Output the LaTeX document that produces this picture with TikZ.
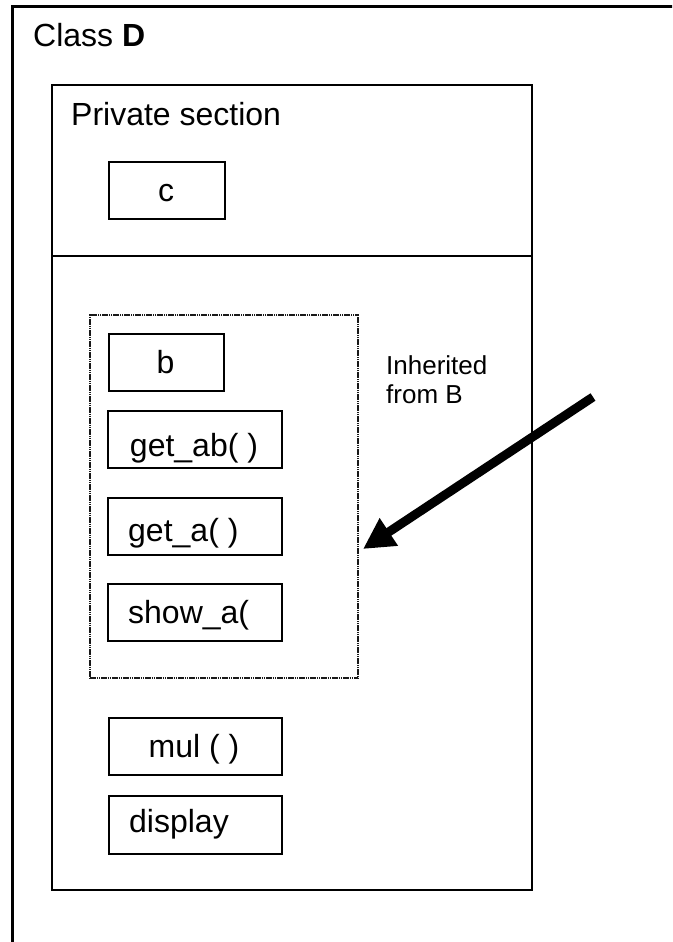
\documentclass[tikz,border=0pt]{standalone}
\usepackage{fontspec}
\setmainfont{Liberation Sans}
\usetikzlibrary{arrows.meta}
\begin{document}
\begin{tikzpicture}[x=1pt,y=-1pt,
  frame/.style={draw, line width=3pt},
  panel/.style={draw, line width=2pt, anchor=north west, inner sep=0pt},
  member/.style={draw, line width=2pt, anchor=north west, inner sep=0pt,
                 minimum width=174pt, minimum height=57pt},
  group/.style={draw=black!90, line width=2pt, dash pattern=on 1.6pt off 0.6pt,
                anchor=north west, inner sep=0pt},
  lbl/.style={font=\fontsize{32}{38}\selectfont, inner sep=0pt},
  note/.style={font=\fontsize{26}{30}\selectfont, inner sep=0pt, anchor=base west},
  inherit/.style={line width=9pt, -{Triangle[length=31pt,width=31pt]}}
]
\clip (0,0) rectangle (672,942);
\fill[white] (0,0) rectangle (672,942);

% class frame (continues past the right and bottom edges)
\draw[frame] (12.5,990) -- (12.5,6.5) -- (720,6.5);
\node[lbl, anchor=base west] (title) at (33,47) {Class \textbf{D}};

% private part: upper and lower sections
\node[panel, minimum width=480pt, minimum height=171pt] (upper) at (50.5,84) {};
\node[panel, minimum width=480pt, minimum height=634pt] (lower) at (50.5,255) {};
\node[lbl, anchor=base west] (privlbl) at (71,125) {Private section};

% own data member
\node[member, minimum width=116pt] (c) at (108,161) {};
\node[lbl, anchor=base] (ct) at (166,201) {c};

% members inherited from B
\node[group, minimum width=267.5pt, minimum height=363pt] (group) at (89,314) {};
\node[member, minimum width=115pt] (b) at (108,333) {};
\node[lbl, anchor=base] (bt) at (165.5,373) {b};
\node[member] (getab) at (107,410) {};
\node[lbl, anchor=base] (getabt) at (194,456) {get\_ab( )};
\node[member] (geta) at (107,497) {};
\node[lbl, anchor=base west] (getat) at (128,541) {get\_a( )};
\node[member] (showa) at (107,583) {};
\node[lbl, anchor=base west] (showat) at (128,623) {show\_a(};

\node[note] (inh1) at (386,374) {Inherited};
\node[note] (inh2) at (386,403) {from B};

% own member functions
\node[member, minimum width=173pt] (mul) at (108,717) {};
\node[lbl, anchor=base] (mult) at (194,757) {mul ( )};
\node[member, minimum width=173pt, minimum height=58pt] (disp) at (108,795) {};
\node[lbl, anchor=base west] (dispt) at (129,832) {display};

% inheritance arrow
\coordinate (tail) at (593,397);
\coordinate (tip) at (363,549);
\draw[inherit] (tail) -- (tip);
\end{tikzpicture}
\end{document}
